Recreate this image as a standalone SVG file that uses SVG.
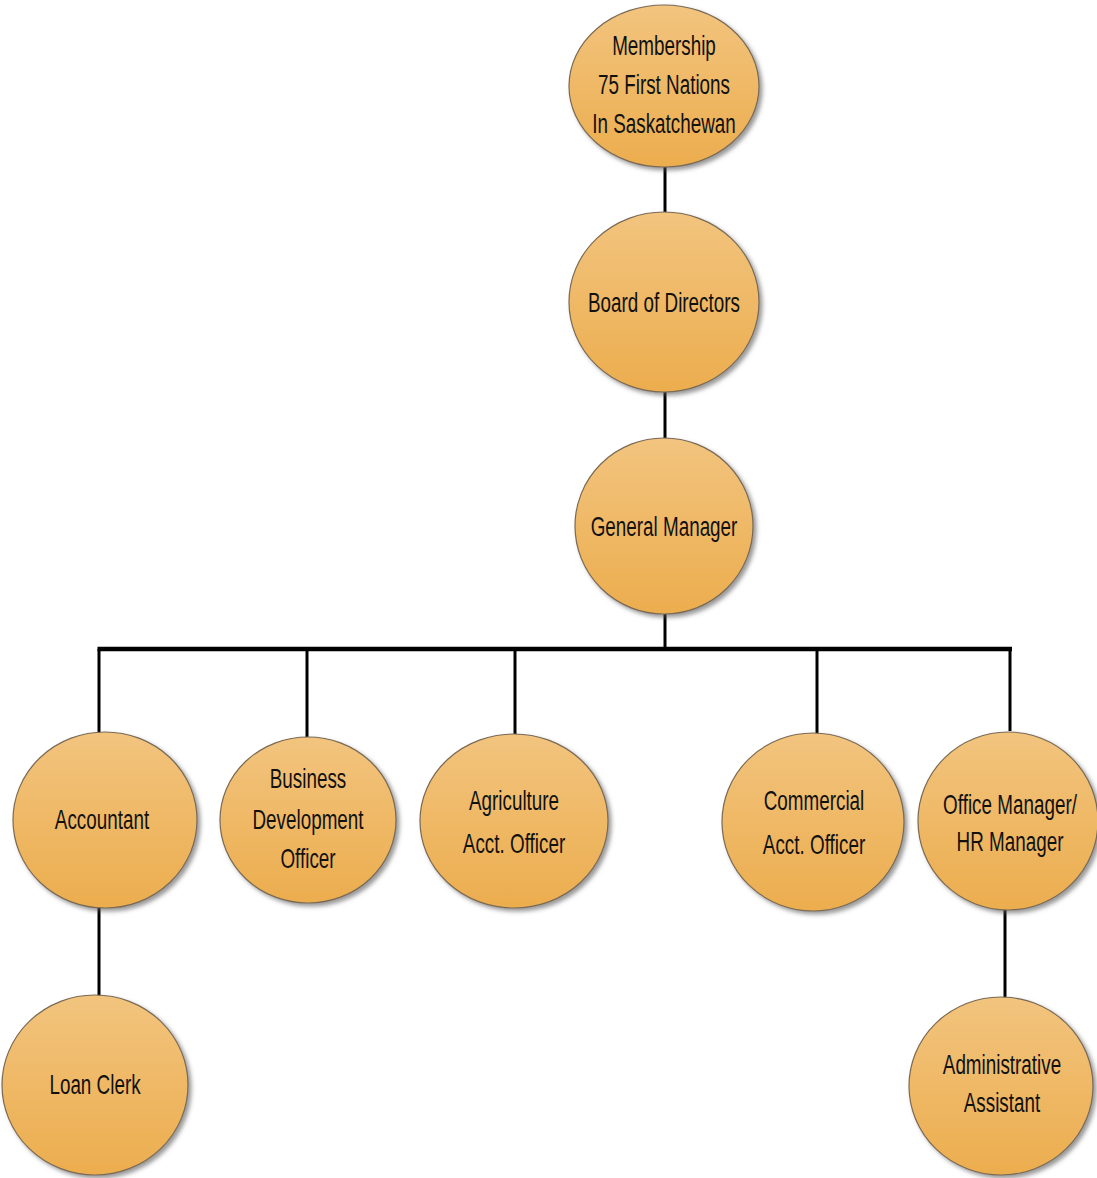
<svg xmlns="http://www.w3.org/2000/svg" width="1097" height="1178" viewBox="0 0 1097 1178">
<style>
.n{fill:url(#g);stroke:#7a6a55;stroke-width:1.2;filter:url(#sh)}
.t{font-family:"Liberation Sans",Arial,sans-serif;font-size:23px;fill:#111;text-anchor:middle}
.c{stroke:#000;stroke-width:3;fill:none}
.bus{stroke:#000;stroke-width:4.5;fill:none}
</style>
<defs>
<linearGradient id="g" x1="0" y1="0" x2="0" y2="1">
<stop offset="0" stop-color="#f2c47e"/>
<stop offset="1" stop-color="#ecad4e"/>
</linearGradient>
<filter id="sh" x="-20%" y="-20%" width="140%" height="140%">
<feDropShadow dx="3" dy="3" stdDeviation="2" flood-color="#555" flood-opacity="0.6"/>
</filter>
</defs>
<rect width="1097" height="1178" fill="#fff"/>
<g id="connectors">
<line class="c" x1="665" y1="166" x2="665" y2="213"/>
<line class="c" x1="665" y1="391" x2="665" y2="439"/>
<line class="c" x1="665" y1="612" x2="665" y2="648"/>
<line class="bus" x1="97.5" y1="649" x2="1012" y2="649"/>
<line class="c" x1="99" y1="649" x2="99" y2="734"/>
<line class="c" x1="307" y1="649" x2="307" y2="738"/>
<line class="c" x1="515" y1="649" x2="515" y2="736"/>
<line class="c" x1="817" y1="649" x2="817" y2="734"/>
<line class="c" x1="1010" y1="649" x2="1010" y2="731"/>
<line class="c" x1="99" y1="906" x2="99" y2="999"/>
<line class="c" x1="1005" y1="908" x2="1005" y2="999"/>
</g>
<g id="membership">
<ellipse class="n" cx="664" cy="86" rx="95" ry="81"/>
<g transform="translate(664,86) scale(0.82,1.18)"><text class="t" x="0" y="-26">Membership</text><text class="t" x="0" y="7">75 First Nations</text><text class="t" x="0" y="40">In Saskatchewan</text></g>
</g>
<g id="board">
<ellipse class="n" cx="664" cy="302" rx="95" ry="90"/>
<g transform="translate(664,303) scale(0.82,1.18)"><text class="t" x="0" y="8">Board of Directors</text></g>
</g>
<g id="gm">
<ellipse class="n" cx="664" cy="526" rx="89" ry="88"/>
<g transform="translate(664,527) scale(0.82,1.18)"><text class="t" x="0" y="8">General Manager</text></g>
</g>
<g id="accountant">
<ellipse class="n" cx="105" cy="820" rx="92" ry="88"/>
<g transform="translate(102,820) scale(0.82,1.18)"><text class="t" x="0" y="8">Accountant</text></g>
</g>
<g id="bdo">
<ellipse class="n" cx="308" cy="820" rx="88" ry="83"/>
<g transform="translate(308,820) scale(0.82,1.18)"><text class="t" x="0" y="-27">Business</text><text class="t" x="0" y="8">Development</text><text class="t" x="0" y="41">Officer</text></g>
</g>
<g id="agriculture">
<ellipse class="n" cx="514" cy="821" rx="94" ry="87"/>
<g transform="translate(514,822) scale(0.82,1.18)"><text class="t" x="0" y="-10">Agriculture</text><text class="t" x="0" y="26">Acct.  Officer</text></g>
</g>
<g id="commercial">
<ellipse class="n" cx="813" cy="822" rx="91" ry="89"/>
<g transform="translate(814,823) scale(0.82,1.18)"><text class="t" x="0" y="-11">Commercial</text><text class="t" x="0" y="26">Acct. Officer</text></g>
</g>
<g id="officemanager">
<ellipse class="n" cx="1008" cy="821" rx="90" ry="89"/>
<g transform="translate(1010,823) scale(0.82,1.18)"><text class="t" x="0" y="-8">Office Manager/</text><text class="t" x="0" y="24">HR Manager</text></g>
</g>
<g id="loanclerk">
<ellipse class="n" cx="95" cy="1085" rx="93" ry="90"/>
<g transform="translate(95,1085) scale(0.82,1.18)"><text class="t" x="0" y="8">Loan Clerk</text></g>
</g>
<g id="admin">
<ellipse class="n" cx="1001" cy="1086" rx="92" ry="89"/>
<g transform="translate(1002,1085) scale(0.82,1.18)"><text class="t" x="0" y="-9">Administrative</text><text class="t" x="0" y="23">Assistant</text></g>
</g>
</svg>
